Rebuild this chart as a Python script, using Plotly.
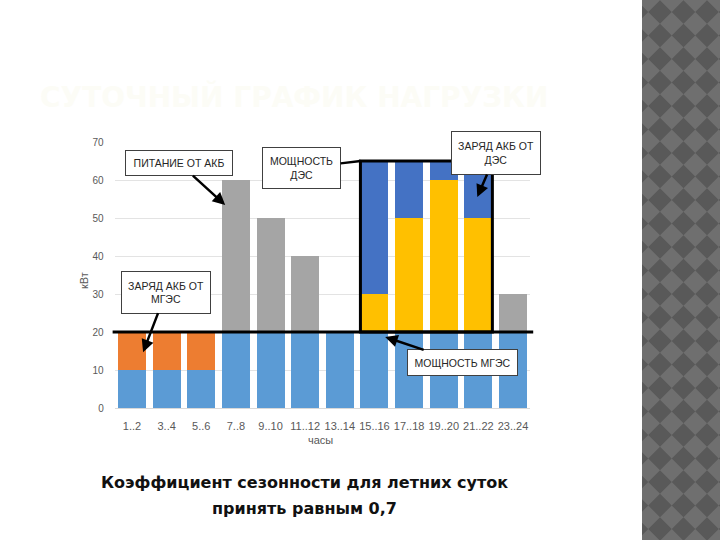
import plotly.graph_objects as go

# ---- data ----
hours = ["1..2", "3..4", "5..6", "7..8", "9..10", "11..12", "13..14",
         "15..16", "17..18", "19..20", "21..22", "23..24"]
mges_power = [10, 10, 10, 20, 20, 20, 20, 20, 20, 20, 20, 20]
akb_charge_mges = [10, 10, 10, 0, 0, 0, 0, 0, 0, 0, 0, 0]
akb_supply = [0, 0, 0, 40, 30, 20, 0, 0, 0, 0, 0, 10]
des_power = [0, 0, 0, 0, 0, 0, 0, 10, 30, 40, 30, 0]
akb_charge_des = [0, 0, 0, 0, 0, 0, 0, 35, 15, 5, 15, 0]
mges_level = 20
des_level = 65
y_ticks = [0, 10, 20, 30, 40, 50, 60, 70]

W, H = 720, 540
fig = go.Figure()

series = [
    (mges_power, "#5B9BD5", "МГЭС"),
    (akb_charge_mges, "#ED7D31", "Заряд АКБ от МГЭС"),
    (akb_supply, "#A5A5A5", "Питание от АКБ"),
    (des_power, "#FFC000", "ДЭС"),
    (akb_charge_des, "#4472C4", "Заряд АКБ от ДЭС"),
]
for vals, col, name in series:
    fig.add_trace(go.Bar(x=hours, y=vals, marker=dict(color=col, line=dict(width=0)),
                         name=name, showlegend=False))

def px(x):
    return x / W
def py(y):
    return 1 - y / H

# ---- decorative diamond strip on the right (clipped to the strip) ----
x_left = 642
h = 11.75

def clip(poly, axis, val, keep_greater):
    out = []
    n = len(poly)
    for i in range(n):
        a, b = poly[i], poly[(i + 1) % n]
        ina = (a[axis] >= val) if keep_greater else (a[axis] <= val)
        inb = (b[axis] >= val) if keep_greater else (b[axis] <= val)
        if ina:
            out.append(a)
        if ina != inb:
            t = (val - a[axis]) / (b[axis] - a[axis])
            out.append((a[0] + t * (b[0] - a[0]), a[1] + t * (b[1] - a[1])))
    return out

path = []
for j in range(-1, 25):
    cy = 12 + 2 * h * j
    for k in range(-1, 4):
        cx = 660 + 2 * h * k
        poly = [(cx, cy - h), (cx + h, cy), (cx, cy + h), (cx - h, cy)]
        for axis, val, g in [(0, x_left, True), (0, W, False), (1, 0, True), (1, H, False)]:
            if poly:
                poly = clip(poly, axis, val, g)
        if len(poly) >= 3:
            path.append("M" + " L".join(f"{px(x):.5f},{py(y):.5f}" for x, y in poly) + " Z")

shapes = [
    dict(type="rect", xref="paper", yref="paper", x0=px(x_left), x1=1, y0=0, y1=1,
         fillcolor="#6f6f6f", line=dict(width=0), layer="below"),
    dict(type="path", xref="paper", yref="paper", path=" ".join(path),
         fillcolor="#595959", line=dict(width=0), layer="below"),
    # МГЭС level line
    dict(type="line", xref="x domain", yref="y", x0=-0.005, x1=1.007, y0=mges_level, y1=mges_level,
         line=dict(color="black", width=3)),
    # ДЭС box
    dict(type="rect", xref="x", yref="y", x0=6.595, x1=10.405, y0=mges_level, y1=des_level,
         line=dict(color="black", width=3), fillcolor="rgba(0,0,0,0)"),
]

box_font = dict(family="Liberation Sans, Arial", size=10.5, color="#262626")
def callout(text, x, y, ax, ay, w, hgt, head=2):
    return dict(text=text, x=x, y=y, xref="x", yref="y", ax=ax, ay=ay,
                showarrow=True, arrowhead=head, arrowsize=1, arrowwidth=2.5, arrowcolor="black",
                bgcolor="white", bordercolor="#404040", borderwidth=1, borderpad=2,
                width=w, height=hgt, font=box_font, align="center")

def label(text, x, y, font, angle=0):
    return dict(text=text, xref="paper", yref="paper", x=px(x), y=py(y), showarrow=False,
                xanchor="center", yanchor="middle", textangle=angle, font=font)

axis_font = dict(family="Liberation Sans, Arial", size=11, color="#595959")
bottom_font = dict(family="DejaVu Sans", size=16, color="#111111")
annotations = [
    callout("ПИТАНИЕ ОТ АКБ", 2.69, 53.4, -46, -42, 102, 20),
    callout("МОЩНОСТЬ<br>ДЭС", 6.6, 65, -59, 7, 73, 36, head=0),
    callout("ЗАРЯД АКБ ОТ<br>ДЭС", 9.97, 55.5, 19, -44, 84, 38),
    callout("ЗАРЯД АКБ ОТ<br>МГЭС", 0.32, 14.7, 23, -60, 84, 37),
    callout("МОЩНОСТЬ МГЭС", 7.31, 18.7, 77, 26, 105, 21),
    label("кВт", 84, 281, axis_font, angle=-90),
    label("часы", 320, 440, axis_font),
    label("<b>СУТОЧНЫЙ ГРАФИК НАГРУЗКИ</b>", 294, 97,
          dict(family="DejaVu Sans", size=28, color="#fcfcf6")),
    label("<b>Коэффициент сезонности для летних суток</b>", 304, 482, bottom_font),
    label("<b>принять равным 0,7</b>", 304, 508, bottom_font),
]

fig.update_layout(
    width=W, height=H, margin=dict(l=0, r=0, t=0, b=0, autoexpand=False),
    paper_bgcolor="white", plot_bgcolor="white",
    barmode="stack", bargap=0.19,
    shapes=shapes, annotations=annotations,
    xaxis=dict(domain=[114.7 / W, 530.3 / W], type="category", range=[-0.5, 11.5],
               showgrid=False, showline=True, linecolor="#d9d9d9", ticks="",
               tickfont=dict(family="Liberation Sans, Arial", size=11, color="#595959"),
               ticklabelstandoff=8),
    yaxis=dict(domain=[1 - 408 / H, 1 - 142 / H], range=[0, 70], tickvals=y_ticks,
               showgrid=True, gridcolor="#e3e3e3", gridwidth=1, zeroline=False,
               showline=False, ticks="",
               tickfont=dict(family="Liberation Sans, Arial", size=10, color="#595959"),
               ticklabelstandoff=10),
)

fig.write_html("out.html")
